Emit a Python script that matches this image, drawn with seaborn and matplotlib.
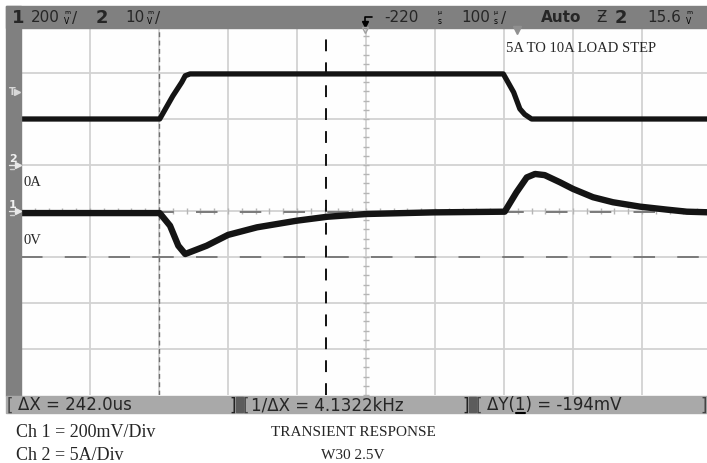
import matplotlib
matplotlib.use("Agg")
import matplotlib.pyplot as plt
import seaborn as sns
import pandas as pd
from matplotlib.patches import Rectangle
from matplotlib.lines import Line2D

# ---------------- data (read from the scope screen) ----------------
# channel 2 : load current (A) vs time (us, 0 = trigger)
t_cur = [-200, 1, 20, 33, 38, 45, 499, 514, 523, 530, 540, 800]
i_cur = [5.0, 5.0, 7.5, 9.0, 9.7, 9.9, 9.9, 7.9, 6.1, 5.5, 5.0, 5.0]
# channel 1 : output voltage deviation (mV) vs time (us)
t_volt = [-200, 1, 16, 28, 38, 69, 100, 142, 200, 244, 301, 397, 501,
          518, 533, 545, 559, 581, 600, 629, 658, 697, 736, 765, 800]
v_mv = [-9, -9, -64, -151, -187, -151, -104, -71, -42, -25, -13, -6, -3,
        81, 146, 161, 156, 125, 96, 60, 38, 19, 6, -3, -6]
# cursors
cursor_x = [0, 242]        # us
cursor_y = [-6, -200]      # mV
# labels
top_left = ["1", "200", "2", "10"]
bar_texts = ["ΔX = 242.0us", "1/ΔX = 4.1322kHz", "ΔY(1) = -194mV"]
notes = ["Ch 1 = 200mV/Div", "Ch 2 = 5A/Div"]
titles = ["TRANSIENT RESPONSE", "W30 2.5V"]

sns.set_style("white")
plt.rcParams["lines.scale_dashes"] = False

W, H = 707, 464
fig = plt.figure(figsize=(W / 100, H / 100), dpi=100)
fig.patch.set_facecolor("white")


def fx(x):
    return x / W


def fy(y):
    return 1 - y / H


ax = fig.add_axes([fx(21), fy(396), 690 / W, 368 / H])
ax.set_xlim(-200, 800)
ax.set_ylim(-800, 800)
ax.set_facecolor("#fefefe")
for s in ax.spines.values():
    s.set_visible(False)

grid_c = "#d2d2d2"
for t in range(-100, 800, 100):
    ax.axvline(t, color=grid_c, lw=1.3, zorder=1)
for v in range(-600, 800, 200):
    ax.axhline(v, color=grid_c, lw=1.3, zorder=1)
# centre axis minor ticks
ax.plot(list(range(-200, 801, 20)), [0] * 51, ls="none", marker="|",
        ms=5, mew=1, color="#b5b5b5", zorder=2)
ax.plot([300] * 41, list(range(-800, 801, 40)), ls="none", marker="_",
        ms=5, mew=1, color="#b5b5b5", zorder=2)

# cursors
ax.axvline(cursor_x[0], color="#707070", lw=1.0, dashes=(3.5, 2.5), zorder=2)
ax.axvline(cursor_x[1], color="#111111", lw=1.4, dashes=(8.5, 8), zorder=2)
for cy in cursor_y:
    ax.axhline(cy, color="#7a7a7a", lw=1.4, dashes=(15.5, 16), zorder=2)

df_v = pd.DataFrame({"t": t_volt, "mv": v_mv})
sns.lineplot(data=df_v, x="t", y="mv", ax=ax, color="#141414", lw=4.6,
             estimator=None, sort=False, zorder=4)

ax2 = ax.twinx()
ax2.set_ylim(-25, 15)
ax2.patch.set_visible(False)
df_i = pd.DataFrame({"t": t_cur, "amps": i_cur})
sns.lineplot(data=df_i, x="t", y="amps", ax=ax2, color="#141414", lw=3.8,
             estimator=None, sort=False, zorder=4)
for a in (ax, ax2):
    a.set_xticks([])
    a.set_yticks([])
    a.set_xlabel("")
    a.set_ylabel("")
    for s in a.spines.values():
        s.set_visible(False)
ax.set_xlim(-200, 800)

# ---------------- frame bars ----------------
fig.add_artist(Rectangle((fx(6), fy(29)), (W - 6) / W, 22 / H,
                         transform=fig.transFigure, color="#808080", zorder=5))
fig.add_artist(Rectangle((fx(6), fy(397)), 15 / W, 390 / H,
                         transform=fig.transFigure, color="#808080", zorder=5))
fig.add_artist(Rectangle((fx(6), fy(414)), (W - 6) / W, 17 / H,
                         transform=fig.transFigure, color="#a9a9a9", zorder=5))
for x0 in (236, 469):
    fig.add_artist(Rectangle((fx(x0), fy(413)), 7 / W, 15 / H,
                             transform=fig.transFigure, color="#5c5c5c", zorder=6))


def T(x, y, s, **kw):
    kw.setdefault("va", "center")
    kw.setdefault("ha", "left")
    kw.setdefault("zorder", 7)
    return fig.text(fx(x), fy(y), s, **kw)


def unit(xc, top, bottom):
    T(xc, 12.5, top, fontsize=4.5, ha="center", color="black")
    T(xc, 21.5, bottom, fontsize=5.5, ha="center", color="black")


sans = "DejaVu Sans"
ty = 18
T(12, ty, top_left[0], fontsize=13, fontweight="bold", family=sans)
T(31, ty, top_left[1], fontsize=11, family=sans)
unit(67, "m", "V")
T(72, ty, "/", fontsize=11, family=sans)
T(96, ty, top_left[2], fontsize=13, fontweight="bold", family=sans)
T(125, ty, top_left[3], fontsize=11, family=sans)
unit(150, "m", "V")
T(155, ty, "/", fontsize=11, family=sans)
# trigger symbol
fig.add_artist(Line2D([fx(372), fx(365), fx(365)], [fy(18), fy(18), fy(24)],
                      transform=fig.transFigure, color="black", lw=1.2, zorder=7))
fig.add_artist(Line2D([fx(365)], [fy(25)], transform=fig.transFigure, marker="v",
                      ms=4, color="black", zorder=7))
T(384, ty, "-220", fontsize=11, family=sans)
unit(440, "µ", "s")
T(461, ty, "100", fontsize=11, family=sans)
unit(496, "µ", "s")
T(501, ty, "/", fontsize=11, family=sans)
T(541, ty, "Auto", fontsize=11, fontweight="bold", family=sans)
T(596, ty, "Ƶ", fontsize=11, family=sans)
T(615, ty, "2", fontsize=13, fontweight="bold", family=sans)
T(647, ty, "15.6", fontsize=11, family=sans)
unit(689, "m", "V")

# markers on the screen edge
fig.add_artist(Line2D([fx(365)], [fy(31)], transform=fig.transFigure, marker="v",
                      ms=5, mfc="none", mec="#a0a0a0", zorder=7))
fig.add_artist(Line2D([fx(517)], [fy(31)], transform=fig.transFigure, marker="v",
                      ms=6, color="#909090", zorder=7))
T(9, 92, "T", fontsize=7, color="#d8d8d8", family=sans, fontweight="bold")
fig.add_artist(Line2D([fx(17)], [fy(93)], transform=fig.transFigure, marker=">",
                      ms=4, color="#d8d8d8", zorder=7))
for lab, yy in (("2", 159), ("1", 205)):
    T(9, yy, lab, fontsize=8, color="#f0f0f0", family=sans, fontweight="bold")
    fig.add_artist(Line2D([fx(9), fx(17)], [fy(yy + 7), fy(yy + 7)],
                          transform=fig.transFigure, color="#e8e8e8", lw=1, zorder=7))
    fig.add_artist(Line2D([fx(18)], [fy(yy + 7)], transform=fig.transFigure,
                          marker=">", ms=4, color="#e8e8e8", zorder=7))
    fig.add_artist(Line2D([fx(10), fx(14)], [fy(yy + 11), fy(yy + 11)],
                          transform=fig.transFigure, color="#d0d0d0", lw=1, zorder=7))

# bottom measurement bar
by = 405.5
T(7, by, "[", fontsize=12, family=sans, color="#444444")
T(18, by, bar_texts[0], fontsize=12, family=sans)
T(229, by, "]", fontsize=12, family=sans, color="#222222")
T(243, by, "[", fontsize=12, family=sans, color="#444444")
T(251, by, bar_texts[1], fontsize=12, family=sans)
T(462, by, "]", fontsize=12, family=sans, color="#222222")
T(476, by, "[", fontsize=12, family=sans, color="#444444")
T(487, by, bar_texts[2], fontsize=12, family=sans)
T(700, by, "]", fontsize=12, family=sans, color="#444444")
fig.add_artist(Line2D([fx(516), fx(525)], [fy(413.5), fy(413.5)],
                      transform=fig.transFigure, color="black", lw=1.5, zorder=7))

serif = "Liberation Serif"
T(506, 48, "5A TO 10A LOAD STEP", fontsize=10.5, family=serif)
T(24, 183, "0A", fontsize=10.5, family=serif)
T(24, 240, "0V", fontsize=10.5, family=serif)
T(16, 433, notes[0], fontsize=13, family=serif)
T(16, 456, notes[1], fontsize=13, family=serif)
T(353, 433, titles[0], fontsize=11, family=serif, ha="center")
T(353, 456, titles[1], fontsize=11, family=serif, ha="center")

fig.savefig("out.png", dpi=100, facecolor="white")
